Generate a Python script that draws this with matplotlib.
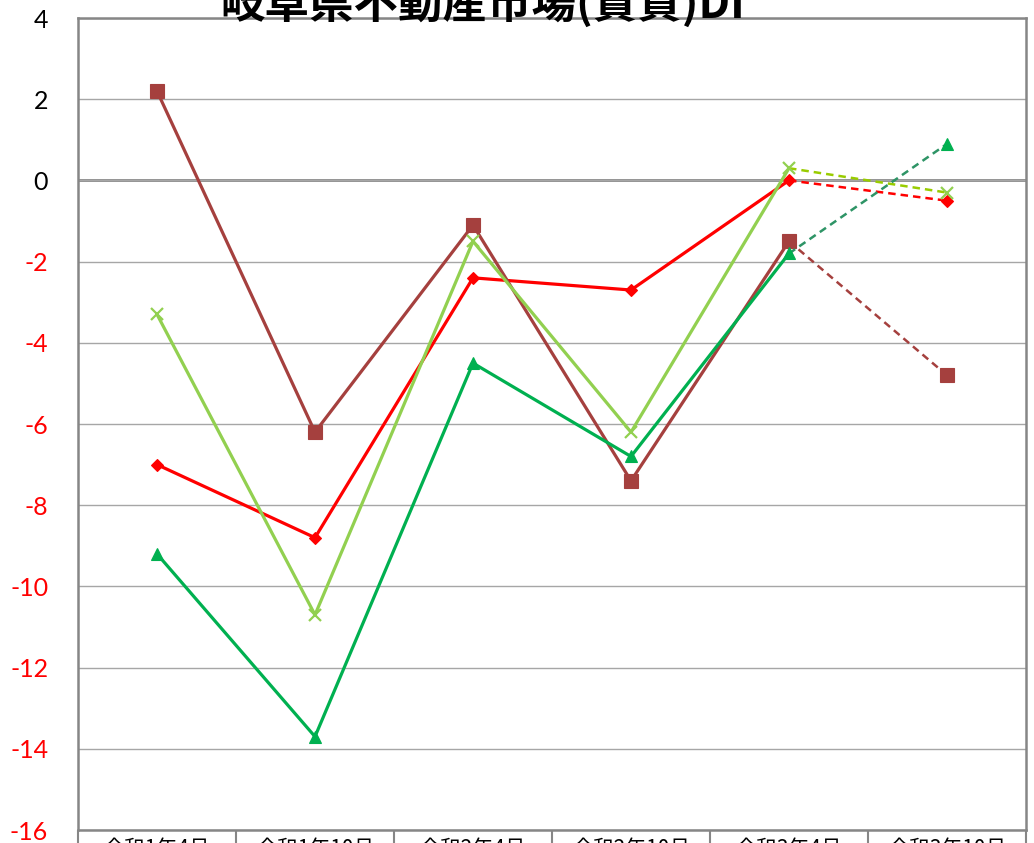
import matplotlib
matplotlib.use("Agg")
import matplotlib.pyplot as plt
from matplotlib.ticker import FixedLocator

# ---- data ----
periods = ["令和1年4月", "令和1年10月", "令和2年4月", "令和2年10月", "令和3年4月", "令和3年10月"]
red_vals = [-7.0, -8.8, -2.4, -2.7, 0.0, -0.5]
brown_vals = [2.2, -6.2, -1.1, -7.4, -1.5, -4.8]
lgreen_vals = [-3.3, -10.7, -1.5, -6.2, 0.3, -0.3]
green_vals = [-9.2, -13.7, -4.5, -6.8, -1.8, 0.9]
yticks = list(range(-16, 5, 2))

plt.rcParams['font.family'] = ['Noto Sans CJK JP', 'DejaVu Sans']

W, H = 1034, 843
fig = plt.figure(figsize=(W / 100, H / 100), dpi=100)
ax = fig.add_axes([78 / W, 1 - 830 / H, (1026 - 78) / W, (830 - 18) / H])

x = list(range(len(periods)))

# (values, solid colour, dashed colour, marker, size)
series = [
    (red_vals, "#FF0000", "#FF0000", "D", 6),
    (brown_vals, "#A5403E", "#A5403E", "s", 10),
    (lgreen_vals, "#92D050", "#99CC00", "x", 9),
    (green_vals, "#00B050", "#2E9466", "^", 8),
]

for i, (vals, c, dc, m, ms) in enumerate(series):
    z = 3 + i
    ax.plot(x[:5], vals[:5], color=c, lw=2.3, zorder=z, solid_capstyle="round")
    ax.plot(x[4:], vals[4:], color=dc, lw=1.8, ls=(0, (3, 2)), zorder=z)
    mew = 1.6 if m == "x" else 0.8
    ax.plot(x, vals, ls="none", marker=m, ms=ms, color=c, mec=c, mew=mew, zorder=z + 0.5)

ax.set_xlim(-0.5, 5.5)
ax.set_ylim(-16, 4)
ax.set_yticks(yticks)
ax.set_yticklabels([str(v) for v in yticks], fontsize=18, family=['Lato', 'DejaVu Sans'])
for lbl, v in zip(ax.get_yticklabels(), yticks):
    lbl.set_color("#FF0000" if v < 0 else "black")
ax.tick_params(axis="y", length=0, pad=21.5)

ax.grid(axis="y", color="#A6A6A6", lw=1, zorder=0)
ax.axhline(0, color="#868686", lw=2, zorder=1)

ax.set_xticks(x)
ax.set_xticklabels(periods, fontsize=15)
ax.tick_params(axis="x", which="major", length=0, pad=6)
ax.xaxis.set_minor_locator(FixedLocator([k - 0.5 for k in range(7)]))
ax.tick_params(axis="x", which="minor", length=20, width=1.5, color="#868686", direction="out")

for s in ax.spines.values():
    s.set_color("#868686")
    s.set_linewidth(1.8)

fig.text(483 / W, 1 - 18 / H, "岐阜県不動産市場(賃貸)DI", ha="center", va="baseline",
         fontsize=32, fontweight="bold")

fig.savefig("out.png", dpi=100)
